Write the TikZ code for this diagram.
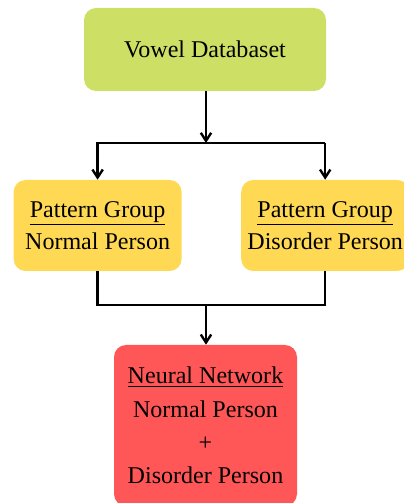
\documentclass[tikz,border=0pt]{standalone}
\usepackage{fontspec}
\setmainfont{Liberation Serif}
\usepackage{tikz}
\usetikzlibrary{arrows.meta}
\definecolor{dbgreen}{RGB}{205,224,101}
\definecolor{pgyellow}{RGB}{255,217,84}
\definecolor{nnred}{RGB}{255,87,87}

\begin{document}
\begin{tikzpicture}[font=\fontsize{17.1}{23}\selectfont,
	box/.style={rounded corners=3mm, align=center, inner sep=0pt},
	line/.style={line width=1.7pt},
	flow/.style={line, -{Straight Barb[length=2mm,width=2.6mm,line width=1.7pt]}}]
	\useasboundingbox (0,0) rectangle (10.1,12.575);
	\clip (0,0) rectangle (10.1,12.575);
	\node[box, fill=dbgreen, minimum width=6.05cm, minimum height=2.075cm] (db) at (5.125,11.3375) {Vowel Databaset};
	\node[box, fill=pgyellow, minimum width=4.2cm, minimum height=2.275cm] (pgN) at (2.44,6.9375) {\underline{Pattern Group}\\Normal Person};
	\node[box, fill=pgyellow, minimum width=4.2cm, minimum height=2.275cm] (pgD) at (8.13,6.9375) {\underline{Pattern Group}\\Disorder Person};
	\node[box, fill=nnred, minimum width=4.575cm, minimum height=4.025cm, font=\fontsize{17.1}{23.6}\selectfont] (nn) at (5.1375,1.9375) {\underline{Neural Network}\\Normal Person\\+\\Disorder Person};
	% split and merge
	\coordinate (split) at (5.15,9.0);
	\coordinate (merge) at (5.15,4.95);
	\draw[flow] (db.south -| split) -- (split);
	\draw[flow] (split -| pgD) -- (split -| pgN) -- (pgN.north);
	\draw[flow] (split -| pgD) -- (pgD.north);
	\draw[line] (pgN.south) |- (merge -| pgD) -- (pgD.south);
	\draw[flow] (merge) -- (merge |- nn.north);
\end{tikzpicture}
\end{document}
